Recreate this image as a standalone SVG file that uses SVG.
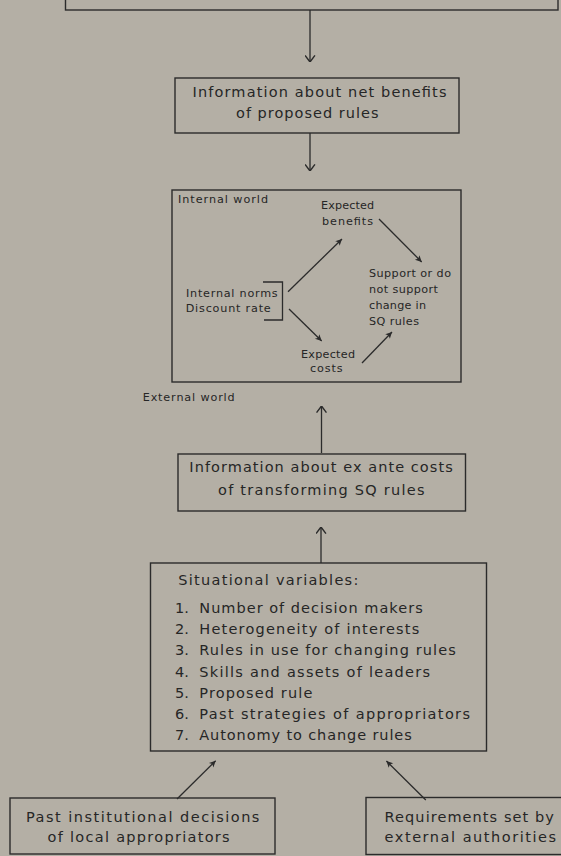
<svg xmlns="http://www.w3.org/2000/svg" width="561" height="856" viewBox="0 0 561 856">
<style>
.bg{fill:#b4afa5}
.box{fill:none;stroke:#2b2b2b;stroke-width:1.4}
.ln{fill:none;stroke:#2b2b2b;stroke-width:1.3}
text{font-family:"DejaVu Sans","Liberation Sans",sans-serif;fill:#262626}
.t14{font-size:14.5px}
.t11{font-size:11.2px}
</style>
<defs>
<marker id="open" viewBox="0 0 10 10" refX="10" refY="5" markerWidth="11" markerHeight="11" markerUnits="userSpaceOnUse" orient="auto">
<path d="M4,0.5 L10,5 L4,9.5" fill="none" stroke="#2b2b2b" stroke-width="1.3"/>
</marker>
<marker id="head" viewBox="0 0 10 10" refX="10" refY="5" markerWidth="8" markerHeight="8" markerUnits="userSpaceOnUse" orient="auto">
<path d="M2,1 L10,5 L2,9 L4,5 z" fill="#2b2b2b"/>
</marker>
</defs>
<rect class="bg" x="0" y="0" width="561" height="856"/>

<g id="top-box"><rect class="box" x="65.5" y="-20" width="492.5" height="30"/></g>

<g id="net-benefits">
<rect class="box" x="175" y="78" width="284" height="55"/>
<text class="t14" x="192.5" y="97" textLength="254" lengthAdjust="spacing">Information about net benefits</text>
<text class="t14" x="236" y="118" textLength="142.5" lengthAdjust="spacing">of proposed rules</text>
</g>

<g id="internal-world">
<rect class="box" x="172" y="190" width="289" height="192"/>
<text class="t11" x="178" y="203" textLength="90" lengthAdjust="spacing">Internal world</text>
</g>

<g id="internal-norms">
<text class="t11" x="186" y="297" textLength="91.7" lengthAdjust="spacing">Internal norms</text>
<text class="t11" x="185.7" y="311.7" textLength="85" lengthAdjust="spacing">Discount rate</text>
<path class="ln" d="M263,282 H282.5 V320 H264"/>
</g>

<g id="expected-benefits">
<text class="t11" x="321" y="209" textLength="53" lengthAdjust="spacing">Expected</text>
<text class="t11" x="322" y="225" textLength="51" lengthAdjust="spacing">benefits</text>
</g>

<g id="support">
<text class="t11" x="369" y="277" textLength="82" lengthAdjust="spacing">Support or do</text>
<text class="t11" x="369" y="293" textLength="69" lengthAdjust="spacing">not support</text>
<text class="t11" x="369" y="309" textLength="57" lengthAdjust="spacing">change in</text>
<text class="t11" x="369" y="325" textLength="50" lengthAdjust="spacing">SQ rules</text>
</g>

<g id="expected-costs">
<text class="t11" x="301" y="358" textLength="54" lengthAdjust="spacing">Expected</text>
<text class="t11" x="310" y="372" textLength="32.7" lengthAdjust="spacing">costs</text>
</g>

<g id="external-world">
<text class="t11" x="142.7" y="401" textLength="92" lengthAdjust="spacing">External world</text>
</g>

<g id="ex-ante-costs">
<rect class="box" x="178" y="454" width="287.5" height="57"/>
<text class="t14" x="189.3" y="472" textLength="263.4" lengthAdjust="spacing">Information about ex ante costs</text>
<text class="t14" x="218" y="494.5" textLength="206.5" lengthAdjust="spacing">of transforming SQ rules</text>
</g>

<g id="situational">
<rect class="box" x="150.5" y="563" width="336" height="188"/>
<text class="t14" x="178.3" y="585" textLength="180" lengthAdjust="spacing">Situational variables:</text>
<text class="t14" x="175" y="613.3">1.</text>
<text class="t14" x="199.3" y="613.3" textLength="223.4" lengthAdjust="spacing">Number of decision makers</text>
<text class="t14" x="175" y="634">2.</text>
<text class="t14" x="199.3" y="634" textLength="220" lengthAdjust="spacing">Heterogeneity of interests</text>
<text class="t14" x="175" y="655">3.</text>
<text class="t14" x="199.3" y="655" textLength="256.4" lengthAdjust="spacing">Rules in use for changing rules</text>
<text class="t14" x="175" y="676.7">4.</text>
<text class="t14" x="199.3" y="676.7" textLength="230.7" lengthAdjust="spacing">Skills and assets of leaders</text>
<text class="t14" x="175" y="698.3">5.</text>
<text class="t14" x="199.3" y="698.3" textLength="113" lengthAdjust="spacing">Proposed rule</text>
<text class="t14" x="175" y="718.5">6.</text>
<text class="t14" x="199.3" y="718.5" textLength="270.7" lengthAdjust="spacing">Past strategies of appropriators</text>
<text class="t14" x="175" y="740">7.</text>
<text class="t14" x="199.3" y="740" textLength="212.4" lengthAdjust="spacing">Autonomy to change rules</text>
</g>

<g id="past-decisions">
<rect class="box" x="10" y="798" width="265" height="56"/>
<text class="t14" x="26" y="821.7" textLength="233.4" lengthAdjust="spacing">Past institutional decisions</text>
<text class="t14" x="47.6" y="841.7" textLength="182" lengthAdjust="spacing">of local appropriators</text>
</g>

<g id="requirements">
<rect class="box" x="366" y="797.5" width="200" height="57"/>
<text class="t14" x="384.6" y="821.7" textLength="169.2" lengthAdjust="spacing">Requirements set by</text>
<text class="t14" x="384.6" y="841.7" textLength="171.4" lengthAdjust="spacing">external authorities</text>
</g>

<g id="connectors">
<line class="ln" x1="310" y1="10" x2="310" y2="62" marker-end="url(#open)"/>
<line class="ln" x1="310" y1="133" x2="310" y2="171" marker-end="url(#open)"/>
<line class="ln" x1="321.5" y1="453" x2="321.5" y2="406" marker-end="url(#open)"/>
<line class="ln" x1="321" y1="563" x2="321" y2="527" marker-end="url(#open)"/>
<line class="ln" x1="288" y1="291.7" x2="342" y2="239" marker-end="url(#head)"/>
<line class="ln" x1="289" y1="309" x2="321.7" y2="341" marker-end="url(#head)"/>
<line class="ln" x1="379" y1="219" x2="421.7" y2="262" marker-end="url(#head)"/>
<line class="ln" x1="362" y1="363" x2="392" y2="332" marker-end="url(#head)"/>
<line class="ln" x1="177" y1="799" x2="215.7" y2="760.7" marker-end="url(#head)"/>
<line class="ln" x1="425.8" y1="800" x2="386.4" y2="761" marker-end="url(#head)"/>
</g>
</svg>
